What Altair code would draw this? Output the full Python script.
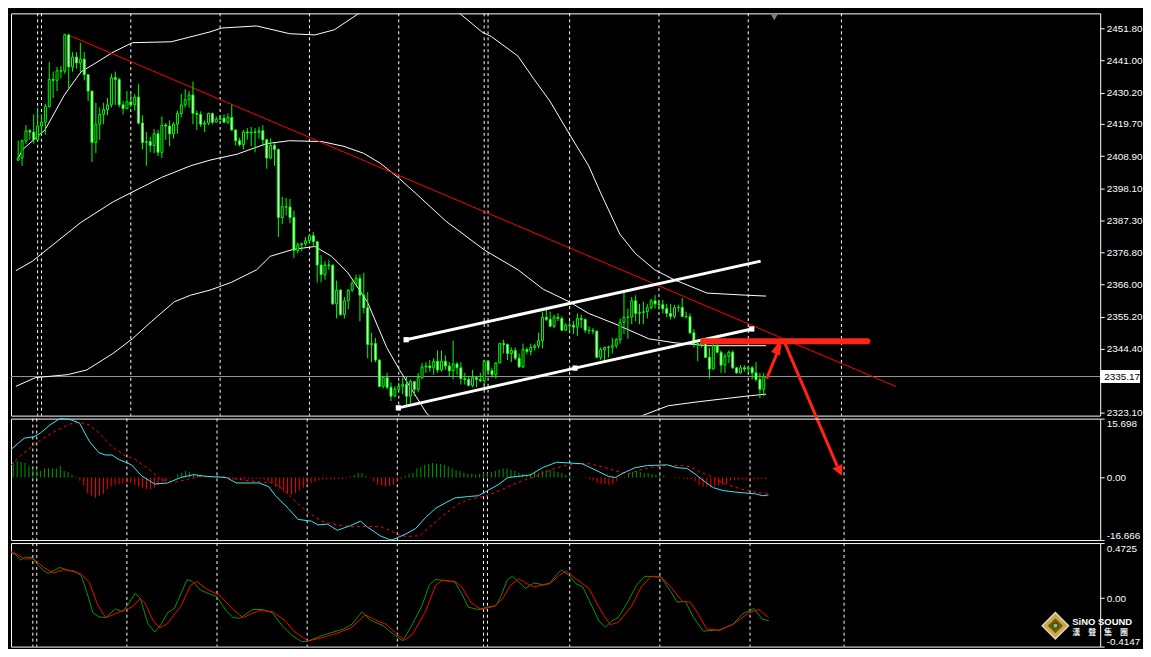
import altair as alt
import pandas as pd
import numpy as np

# ---------------- data ----------------
first_open = 2407.6
closes = [2408.3, 2414.1, 2417.4, 2417.0, 2414.4, 2419.0, 2420.3, 2425.5, 2434.6, 2434.3,
          2437.5, 2437.4, 2449.5, 2438.8, 2442.1, 2440.1, 2441.4, 2436.2, 2430.7, 2413.5,
          2419.6, 2422.9, 2424.5, 2426.1, 2435.2, 2434.6, 2426.1, 2424.8, 2427.1, 2426.1,
          2428.7, 2420.0, 2413.5, 2413.8, 2412.5, 2416.4, 2410.2, 2419.3, 2419.0, 2416.4,
          2419.6, 2423.2, 2426.1, 2427.8, 2429.4, 2423.2, 2422.9, 2419.6, 2420.0, 2423.2,
          2420.3, 2421.3, 2421.6, 2420.3, 2421.9, 2417.7, 2414.1, 2412.8, 2417.0, 2416.7,
          2417.0, 2416.9, 2417.4, 2414.4, 2408.3, 2412.5, 2411.2, 2388.4, 2392.0, 2391.9,
          2388.4, 2377.4, 2379.3, 2379.6, 2380.6, 2382.3, 2380.3, 2372.5, 2369.3, 2372.5,
          2372.4, 2359.5, 2364.1, 2355.9, 2360.5, 2364.1, 2366.3, 2368.0, 2362.4, 2358.2,
          2345.9, 2346.2, 2340.7, 2331.9, 2334.8, 2331.6, 2328.6, 2330.9, 2331.9, 2332.5,
          2328.6, 2333.5, 2330.9, 2334.8, 2338.4, 2338.7, 2338.1, 2340.3, 2337.4, 2340.3,
          2338.7, 2337.1, 2339.4, 2338.1, 2334.5, 2334.2, 2332.2, 2334.8, 2334.2, 2333.8,
          2340.3, 2337.1, 2335.8, 2339.7, 2346.2, 2345.9, 2342.9, 2343.9, 2341.3, 2338.4,
          2344.2, 2343.6, 2344.9, 2345.5, 2347.2, 2355.0, 2354.3, 2352.0, 2355.0, 2354.6,
          2350.7, 2352.4, 2352.3, 2351.7, 2354.6, 2354.3, 2350.7, 2350.6, 2350.4, 2341.6,
          2344.2, 2344.9, 2345.0, 2345.5, 2347.5, 2353.3, 2355.0, 2355.1, 2360.5, 2356.3,
          2356.6, 2356.9, 2358.2, 2360.5, 2359.5, 2359.2, 2357.9, 2356.3, 2355.3, 2358.2,
          2358.3, 2355.3, 2355.2, 2349.8, 2346.2, 2345.9, 2346.5, 2341.6, 2337.7, 2345.5,
          2343.3, 2339.0, 2342.0, 2343.3, 2338.1, 2336.4, 2338.1, 2337.7, 2338.1, 2336.4,
          2334.2, 2330.9, 2335.2]
highs = [2414.1, 2414.4, 2419.3, 2418.0, 2422.9, 2425.2, 2422.9, 2426.5, 2440.4, 2437.2,
         2438.8, 2439.1, 2449.9, 2449.9, 2443.7, 2443.7, 2446.9, 2443.7, 2436.2, 2430.4,
         2426.8, 2425.2, 2426.8, 2428.4, 2436.5, 2437.2, 2435.2, 2427.4, 2430.7, 2430.0,
         2429.7, 2433.0, 2422.6, 2417.0, 2415.4, 2418.0, 2417.7, 2422.2, 2420.0, 2420.9,
         2420.3, 2424.2, 2429.7, 2431.3, 2430.7, 2433.9, 2424.2, 2423.9, 2420.9, 2423.5,
         2423.5, 2422.2, 2422.6, 2422.9, 2423.2, 2426.1, 2417.7, 2415.1, 2417.7, 2418.3,
         2418.7, 2418.3, 2418.7, 2419.3, 2414.8, 2414.8, 2413.5, 2411.2, 2395.3, 2394.9,
         2394.6, 2390.7, 2380.0, 2380.0, 2381.9, 2382.9, 2383.6, 2380.3, 2375.8, 2373.8,
         2374.1, 2372.8, 2367.3, 2364.4, 2361.8, 2364.4, 2367.3, 2369.3, 2369.3, 2369.9,
         2363.4, 2349.8, 2348.1, 2341.0, 2335.1, 2336.4, 2333.2, 2331.9, 2333.2, 2334.8,
         2335.1, 2334.2, 2331.6, 2336.4, 2339.7, 2340.0, 2340.7, 2341.3, 2343.9, 2343.9,
         2342.3, 2340.0, 2347.2, 2340.0, 2340.0, 2336.4, 2335.1, 2337.4, 2335.1, 2336.4,
         2340.7, 2340.7, 2338.1, 2340.0, 2346.5, 2347.5, 2346.2, 2344.9, 2344.9, 2342.9,
         2346.2, 2344.9, 2346.2, 2346.2, 2349.8, 2356.9, 2358.5, 2356.9, 2355.9, 2356.3,
         2355.3, 2353.0, 2353.7, 2353.7, 2356.3, 2355.9, 2354.6, 2352.0, 2351.4, 2350.4,
         2344.9, 2345.2, 2345.5, 2348.1, 2348.1, 2354.6, 2364.1, 2357.9, 2361.8, 2362.4,
         2359.5, 2360.2, 2359.5, 2361.1, 2362.4, 2360.8, 2360.8, 2359.5, 2359.5, 2359.2,
         2359.2, 2361.5, 2356.9, 2356.3, 2351.1, 2346.5, 2347.2, 2347.8, 2344.9, 2346.2,
         2346.2, 2343.9, 2342.9, 2343.9, 2343.9, 2338.4, 2339.0, 2339.0, 2338.7, 2338.7,
         2340.0, 2336.4, 2336.4]
lows = [2407.3, 2405.7, 2413.1, 2414.4, 2413.1, 2416.4, 2416.4, 2416.1, 2425.2, 2428.4,
        2430.7, 2434.9, 2436.5, 2431.7, 2437.2, 2438.2, 2437.2, 2434.3, 2427.4, 2407.0,
        2409.9, 2414.4, 2419.6, 2422.6, 2425.2, 2426.1, 2425.2, 2422.9, 2425.2, 2425.2,
        2424.2, 2419.6, 2411.2, 2405.7, 2410.2, 2409.9, 2408.9, 2408.3, 2414.4, 2412.2,
        2414.8, 2416.4, 2421.9, 2425.2, 2425.2, 2419.6, 2417.7, 2418.7, 2417.0, 2419.3,
        2419.6, 2420.3, 2420.9, 2420.0, 2419.6, 2417.4, 2412.5, 2412.2, 2411.2, 2414.4,
        2412.2, 2410.2, 2414.8, 2412.2, 2404.7, 2407.9, 2405.7, 2381.9, 2386.2, 2389.1,
        2386.5, 2374.8, 2376.4, 2377.1, 2378.7, 2379.7, 2378.7, 2366.7, 2366.7, 2367.6,
        2370.9, 2359.2, 2354.6, 2355.6, 2354.6, 2357.6, 2363.4, 2365.7, 2353.7, 2356.3,
        2341.3, 2340.0, 2340.0, 2331.6, 2331.2, 2330.9, 2327.0, 2328.3, 2330.3, 2329.3,
        2325.4, 2325.4, 2328.6, 2329.9, 2334.2, 2336.4, 2336.8, 2335.8, 2336.4, 2336.8,
        2337.4, 2335.1, 2334.2, 2335.8, 2332.5, 2332.5, 2331.9, 2331.6, 2331.6, 2333.2,
        2331.6, 2336.4, 2334.8, 2334.5, 2339.7, 2342.9, 2340.7, 2340.0, 2340.7, 2338.1,
        2338.1, 2342.6, 2342.3, 2343.9, 2344.6, 2344.6, 2353.7, 2351.7, 2351.4, 2353.7,
        2350.4, 2350.4, 2350.4, 2349.4, 2348.8, 2351.4, 2349.8, 2349.4, 2349.4, 2341.3,
        2340.7, 2340.0, 2341.6, 2342.9, 2344.6, 2346.2, 2349.4, 2347.8, 2352.7, 2353.7,
        2352.7, 2352.7, 2354.6, 2357.6, 2357.9, 2357.6, 2356.3, 2355.0, 2354.3, 2354.6,
        2356.9, 2355.0, 2354.6, 2349.4, 2344.9, 2340.3, 2344.9, 2341.3, 2334.5, 2337.4,
        2342.9, 2336.4, 2336.4, 2339.7, 2337.7, 2336.1, 2336.1, 2336.8, 2336.8, 2334.2,
        2333.5, 2328.0, 2328.6]

upper_band = [(0, 2408.3), (1.2, 2411.2), (6.9, 2417.7), (11.9, 2429.4), (16.2, 2437.2), (18.7, 2439.1),
              (24.4, 2443.7), (29.4, 2446.9), (39.4, 2447.2), (49.4, 2450.5), (52.4, 2451.8), (61.4, 2452.5),
              (69.9, 2449.9), (76.4, 2449.5), (81.4, 2451.2), (87.4, 2456.4), (94.4, 2462.5), (104.4, 2465.8),
              (113.7, 2456.7), (119.4, 2450.5), (121.9, 2448.9), (128.7, 2442.4), (132.7, 2434.9), (136.9, 2427.4),
              (141.9, 2416.4), (146.9, 2405.7), (149.9, 2396.9), (154.9, 2382.9), (158.9, 2376.4), (163.9, 2370.9),
              (168.9, 2367.6), (177.4, 2363.1), (187.4, 2362.4), (192.6, 2362.1)]
middle_band = [(-0.6, 2370.6), (3.7, 2373.8), (7.7, 2378.0), (16.2, 2386.8), (24.4, 2393.6), (28.9, 2396.6),
               (36.9, 2401.8), (44.4, 2405.7), (49.4, 2407.6), (56.4, 2409.6), (63.9, 2413.1), (69.9, 2414.1),
               (78.2, 2413.8), (83.9, 2412.2), (88.9, 2409.9), (93.2, 2406.6), (98.2, 2401.4), (103.7, 2394.9),
               (110.2, 2387.1), (120.2, 2377.4), (128.7, 2370.9), (135.2, 2364.4), (141.9, 2360.2), (146.9, 2356.3),
               (153.9, 2352.7), (162.4, 2347.8), (168.9, 2346.5), (177.4, 2345.5), (192.6, 2345.5)]
lower_band = [(-0.6, 2331.9), (4.4, 2334.8), (12.7, 2335.8), (17.7, 2337.4), (24.4, 2342.9), (29.4, 2347.8),
              (34.4, 2353.7), (40.2, 2360.2), (44.4, 2362.4), (49.4, 2364.1), (54.9, 2366.7), (61.4, 2370.9),
              (64.9, 2375.4), (70.7, 2377.7), (76.4, 2378.7), (80.7, 2375.4), (84.9, 2369.9), (89.9, 2360.2),
              (94.9, 2344.9), (98.2, 2337.4), (100.2, 2333.2), (105.2, 2322.8), (115, 2312.0), (130, 2308.0),
              (145, 2312.0), (155, 2318.0), (160.7, 2322.1), (167.4, 2325.4), (174.9, 2326.7), (187.4, 2328.6),
              (192.6, 2329.3)]

trend_line = [(13.2, 2449.3), (226.1, 2331.8)]
channel_upper = [(99.9, 2347.5), (191.2, 2373.8)]
channel_lower = [(97.9, 2324.7), (143.4, 2338.0), (188.9, 2351.1)]
channel_handles = [(99.9, 2347.5), (97.9, 2324.7), (143.4, 2338.0), (188.9, 2351.1)]
resistance = [(176.4, 2347.0), (218.7, 2347.0)]
arrow_up = [(192.75, 2334.5), (196.2, 2345.5)]
arrow_up_tip = (196.5, 2347.7)
arrow_down = [(197.35, 2346.6), (210.9, 2305.2)]
arrow_down_tip = (212.1, 2302.0)
last_price = 2335.17
separators = [5, 6, 29, 52, 75, 98, 120, 121, 142, 165, 188, 212]
main_ticks = [2451.80, 2441.00, 2430.20, 2419.70, 2408.90, 2398.10, 2387.30, 2376.80,
              2366.00, 2355.20, 2344.40, 2323.10]

hist = [4.07, 4.36, 4.07, 3.88, 3.10, 2.42, 1.94, 1.74, 2.42, 2.42,
        2.42, 2.42, 3.10, 1.74, 1.45, 0.68, 0.19, -0.87, -2.13, -4.17,
        -4.84, -5.33, -4.84, -4.36, -3.10, -2.42, -1.94, -1.74, -1.55, -1.45,
        -1.45, -1.94, -2.42, -2.71, -3.10, -3.10, -2.71, -1.94, -1.26, -0.87,
        -0.19, 0.05, 0.97, 1.26, 1.74, 1.45, 0.97, 0.68, 0.29, 0.19,
        0.19, 0.10, 0.0, -0.19, -0.19, -0.29, -0.48, -0.48, -0.39, -0.39,
        -0.39, -0.39, -0.39, -0.39, -0.58, -0.97, -1.45, -2.42, -2.91, -3.68,
        -4.36, -4.55, -4.07, -3.39, -2.71, -1.94, -1.45, -1.16, -0.78, -0.58,
        -0.48, -0.48, -0.48, -0.39, -0.39, -0.29, 0.29, 0.68, 1.16, 1.16,
        0.39, -0.19, -0.97, -1.94, -2.13, -2.42, -2.23, -1.94, -1.20, -0.40,
        0.48, 0.97, 1.26, 2.42, 2.91, 3.39, 3.68, 3.88, 3.68, 3.59,
        3.39, 2.91, 2.42, 1.94, 1.74, 1.26, 0.97, 0.97, 0.78, 0.97,
        1.16, 1.16, 1.45, 1.74, 2.13, 2.42, 2.42, 2.13, 1.74, 1.16,
        0.97, 0.78, 0.97, 1.16, 1.16, 1.74, 1.94, 1.94, 1.74, 1.45,
        1.16, 0.68, 0.39, 0.19, 0.10, 0.0, -0.19, -0.48, -0.78, -1.45,
        -1.74, -1.74, -1.94, -1.74, -0.97, -0.19, 0.19, 0.97, 1.45, 1.74,
        1.45, 1.16, 1.16, 0.97, 0.78, 0.68, 0.48, 0.0, -0.10, -0.19,
        -0.19, -0.29, -0.39, -0.48, -0.97, -1.94, -2.42, -2.42, -2.71, -2.42,
        -2.13, -1.94, -1.45, -0.78, -0.68, -0.58, -0.58, -0.58, -0.48, -0.48,
        -0.39, -0.39, -0.39]

macd_line = [(-0.6, 7.44), (2.75, 10.47), (5.25, 10.84), (6.9, 11.80), (9.4, 14.04), (11.9, 15.69),
             (14.4, 15.49), (16.9, 14.53), (19.4, 9.68), (21.9, 6.57), (23.6, 5.99), (25.2, 5.99),
             (26.9, 4.83), (30.2, 3.37), (32.7, 0.47), (36.1, -1.74), (39.4, -1.45), (42.7, 0.0),
             (46.1, 0.76), (49.4, 0.29), (54.4, 0.0), (56.9, -1.45), (62.7, -1.45), (65.2, -2.44),
             (66.9, -4.85), (70.2, -8.26), (72.7, -11.16), (76.1, -11.63), (77.7, -12.62), (80.2, -12.41),
             (82.7, -14.07), (86.1, -12.79), (88.6, -11.63), (90.2, -13.08), (93.6, -15.52), (96.1, -16.6),
             (96.9, -16.55), (100.2, -15.03), (102.7, -13.58), (105.2, -10.67), (107.7, -8.26), (110.2, -6.80),
             (112.7, -5.44), (116.2, -5.06), (118.7, -4.85), (121.2, -3.40), (123.7, -1.95), (126.2, 0.0),
             (128.7, 0.29), (131.9, 0.67), (135.2, 2.70), (138.7, 4.07), (141.9, 3.87), (145.2, 3.66),
             (148.7, 1.92), (151.9, 0.29), (153.7, 0.0), (155.2, 0.96), (158.7, 2.62), (161.9, 3.20),
             (166.9, 3.37), (169.4, 2.62), (171.9, 2.41), (173.7, 1.16), (176.9, -1.45), (178.7, -2.73),
             (181.2, -3.49), (184.4, -3.90), (189.4, -4.36), (191.2, -4.85), (192.7, -4.65)]
signal_line = [(-0.6, 3.37), (1.9, 5.81), (5.25, 8.72), (7.7, 10.47), (11.1, 12.59), (14.4, 14.24),
               (16.9, 14.71), (19.4, 14.04), (21.9, 11.80), (25.2, 8.23), (28.6, 5.81), (31.1, 4.83),
               (34.4, 2.41), (37.7, -0.49), (41.1, -1.28), (44.4, -0.49), (47.7, 0.29), (52.7, 0.29),
               (56.1, -0.29), (61.1, -0.99), (66.1, -1.45), (68.6, -2.91), (71.9, -6.31), (75.2, -9.22),
               (78.6, -11.63), (82.7, -12.62), (86.1, -13.08), (90.2, -13.08), (93.6, -13.08), (96.1, -14.07),
               (98.6, -15.32), (100.2, -15.70), (103.7, -15.52), (106.9, -12.62), (110.2, -9.71), (113.7, -6.98),
               (116.9, -5.64), (120.2, -5.06), (123.7, -3.69), (126.9, -2.15), (130.2, -0.78), (133.7, 0.47),
               (136.9, 1.92), (140.2, 3.08), (143.7, 3.66), (146.9, 3.66), (150.2, 2.91), (153.7, 1.74),
               (156.9, 0.96), (160.2, 2.12), (163.7, 2.91), (166.9, 3.20), (170.2, 3.20), (172.7, 2.91),
               (175.2, 1.45), (177.7, 0.47), (181.2, -1.45), (183.7, -2.44), (186.9, -3.40), (190.2, -4.07),
               (192.7, -4.19)]

osc_green = [(-0.6, 0.392), (0.7, 0.373), (1.9, 0.326), (3.2, 0.354), (4.9, 0.346), (6.1, 0.290),
             (7.8, 0.235), (9.0, 0.213), (10.7, 0.243), (11.9, 0.263), (14.0, 0.240), (16.1, 0.221),
             (17.4, 0.193), (19.0, 0.027), (20.3, -0.124), (21.9, -0.160), (23.6, -0.166), (26.1, -0.091),
             (27.8, -0.116), (29.0, -0.069), (31.1, 0.041), (32.4, 0.0), (34.4, -0.221), (36.1, -0.290),
             (37.8, -0.221), (39.4, -0.124), (41.1, -0.089), (42.8, 0.041), (44.4, 0.160), (45.7, 0.143),
             (47.8, 0.069), (50.3, 0.033), (51.9, 0.014), (54.4, -0.110), (56.1, -0.166), (57.8, -0.172),
             (61.1, -0.097), (63.6, -0.097), (66.1, -0.124), (68.6, -0.235), (71.1, -0.318), (73.6, -0.373),
             (75.2, -0.367), (79.4, -0.313), (84.4, -0.263), (86.5, -0.221), (89.0, -0.116), (91.1, -0.188),
             (94.4, -0.235), (97.4, -0.318), (99.4, -0.365), (101.9, -0.221), (104.4, -0.056), (106.1, 0.110),
             (107.7, 0.160), (110.2, 0.152), (112.7, 0.138), (114.4, 0.041), (116.1, -0.077), (118.6, -0.097),
             (121.1, -0.075), (123.2, -0.064), (124.4, 0.014), (126.1, 0.160), (127.4, 0.188), (129.0, 0.138),
             (130.7, 0.083), (132.8, 0.130), (135.2, 0.116), (136.9, 0.130), (138.6, 0.199), (139.9, 0.243),
             (141.9, 0.193), (143.6, 0.124), (145.3, 0.097), (146.9, -0.014), (149.4, -0.193), (151.1, -0.249),
             (152.8, -0.193), (154.4, -0.166), (156.9, -0.027), (159.0, 0.110), (161.1, 0.188), (165.3, 0.180),
             (167.8, 0.056), (169.4, -0.033), (171.5, -0.027), (173.6, -0.166), (176.1, -0.282), (180.3, -0.271),
             (183.6, -0.226), (186.1, -0.133), (189.0, -0.089), (191.1, -0.180), (192.8, -0.193)]
osc_red = [(-0.6, 0.400), (1.1, 0.373), (2.8, 0.337), (5.25, 0.337), (7.75, 0.263), (10.25, 0.216),
           (12.75, 0.243), (15.25, 0.235), (17.35, 0.207), (19.4, 0.138), (21.5, -0.056), (23.6, -0.166),
           (26.1, -0.133), (28.6, -0.097), (30.25, -0.077), (32.35, -0.006), (33.6, -0.041), (35.7, -0.193),
           (37.35, -0.255), (39.4, -0.216), (42.75, -0.069), (45.25, 0.110), (46.9, 0.143), (49.4, 0.077),
           (52.75, 0.022), (56.1, -0.097), (58.6, -0.166), (62.75, -0.105), (66.1, -0.116), (69.4, -0.193),
           (71.9, -0.290), (75.25, -0.367), (78.6, -0.340), (82.75, -0.299), (86.1, -0.255), (89.85, -0.143),
           (91.9, -0.180), (95.25, -0.226), (97.75, -0.304), (99.85, -0.359), (101.9, -0.309), (105.25, -0.110),
           (107.75, 0.110), (109.4, 0.152), (112.75, 0.143), (114.4, 0.097), (116.9, -0.041), (119.4, -0.097),
           (122.75, -0.069), (124.85, -0.006), (126.9, 0.110), (129.0, 0.166), (131.1, 0.124), (132.75, 0.097),
           (136.9, 0.124), (139.4, 0.199), (141.1, 0.230), (143.6, 0.166), (146.9, 0.083), (150.25, -0.124),
           (152.35, -0.226), (154.4, -0.207), (157.75, -0.069), (160.25, 0.097), (162.75, 0.188), (165.25, 0.185),
           (167.75, 0.097), (170.7, -0.027), (172.75, -0.033), (174.85, -0.138), (176.9, -0.263), (180.25, -0.276),
           (184.0, -0.216), (187.75, -0.124), (190.25, -0.097), (192.75, -0.166)]

# ---------------- styling ----------------
W, H1, H2, H3 = 1094, 404, 122, 104
XDOM = [-0.575, 277.35]
CANDLE = "#00ff00"
DKGREEN = "#009a00"
RED = "#ff0000"
ARROW = "#ff2418"
CYAN = "#3ce6f6"
FONT = "Liberation Sans"

xsc = alt.Scale(domain=XDOM, nice=False, zero=False)


def X(f="i"):
    return alt.X(f"{f}:Q", scale=xsc, axis=None)


def pairs(lst, name=None):
    df = pd.DataFrame(lst, columns=["i", "v"])
    if name is not None:
        df["s"] = name
    return df


# ---------------- main price panel ----------------
y1 = alt.Scale(domain=[2322.1, 2456.7], nice=False, zero=False)
ax1 = alt.Axis(orient="right", values=main_ticks, title=None, labelExpr="format(datum.value, '.2f')",
               labelOverlap=False)


def Y1(f):
    return alt.Y(f"{f}:Q", scale=y1, axis=ax1)


opens = [first_open] + closes[:-1]
cd = pd.DataFrame({"i": range(len(closes)), "open": opens, "close": closes, "high": highs, "low": lows})
cd["hi"] = cd[["high", "open", "close"]].max(axis=1)
cd["lo"] = cd[["low", "open", "close"]].min(axis=1)
cd["fill"] = np.where(cd["close"] < cd["open"], "#ffffff", "#000000")

sep_df = pd.DataFrame({"i": separators})


def sep_layer():
    return alt.Chart(sep_df).mark_rule(color="#ffffff", strokeDash=[3, 3], strokeWidth=1).encode(x=X())


price_line = alt.Chart(pd.DataFrame({"v": [last_price]})).mark_rule(color="#9a9a9a", strokeWidth=1).encode(y=Y1("v"))

bands = pd.concat([pairs(upper_band, "u"), pairs(middle_band, "m"), pairs(lower_band, "l")])
band_layer = alt.Chart(bands).mark_line(color="#ffffff", strokeWidth=1, clip=True).encode(
    x=X(), y=Y1("v"), detail="s:N")

trend = alt.Chart(pairs(trend_line)).mark_line(color=RED, strokeWidth=1).encode(x=X(), y=Y1("v"))

wicks = alt.Chart(cd).mark_rule(color=CANDLE, strokeWidth=1).encode(x=X(), y=Y1("lo"), y2="hi:Q")
bodies = alt.Chart(cd).mark_bar(size=2, stroke=CANDLE, strokeWidth=1).encode(
    x=X(), y=Y1("open"), y2="close:Q", fill=alt.Fill("fill:N", scale=None))

chan = pd.concat([pairs(channel_upper, "a"), pairs(channel_lower, "b")])
chan_layer = alt.Chart(chan).mark_line(color="#ffffff", strokeWidth=3).encode(x=X(), y=Y1("v"), detail="s:N")
handles = alt.Chart(pairs(channel_handles)).mark_square(size=28, color="#ffffff", opacity=1).encode(
    x=X(), y=Y1("v"))

res_layer = alt.Chart(pairs(resistance)).mark_line(color=ARROW, strokeWidth=6, strokeCap="round").encode(
    x=X(), y=Y1("v"))

shafts = pd.concat([pairs(arrow_up, "u"), pairs(arrow_down, "d")])
shaft_layer = alt.Chart(shafts).mark_line(color=ARROW, strokeWidth=3, clip=False).encode(
    x=X(), y=Y1("v"), detail="s:N")
head1 = alt.Chart(pairs([arrow_up_tip])).mark_point(
    shape="M0,0L0.62,2L-0.62,2Z", filled=True, opacity=1, color=ARROW, size=250, angle=21, clip=False
).encode(x=X(), y=Y1("v"))
head2 = alt.Chart(pairs([arrow_down_tip])).mark_point(
    shape="M0,0L1.05,2L-1.05,2Z", filled=True, opacity=1, color=ARROW, size=110, angle=155, clip=False
).encode(x=X(), y=Y1("v"))

shift_mark = alt.Chart(pairs([(194.7, 2455.4)])).mark_point(
    shape="triangle-down", filled=True, opacity=1, color="#808080", size=45).encode(x=X(), y=Y1("v"))

lp_df = pd.DataFrame({"v": [last_price], "t": [f"{last_price:.2f}"]})
lp_box = alt.Chart(lp_df).mark_tick(orient="horizontal", thickness=13, size=40, color="#ffffff", opacity=1,
                                    clip=False).encode(x=alt.value(W + 20), y=Y1("v"))
lp_text = alt.Chart(lp_df).mark_text(align="left", baseline="middle", font=FONT, fontSize=10, color="#000000",
                                     clip=False).encode(x=alt.value(W + 4), y=Y1("v"), text="t:N")

main = alt.layer(
    sep_layer(), price_line, band_layer, trend, wicks, bodies, chan_layer, handles,
    res_layer, shaft_layer, head1, head2, shift_mark, lp_box, lp_text
).properties(width=W, height=H1)

# ---------------- MACD panel ----------------
y2s = alt.Scale(domain=[-16.666, 15.698], nice=False, zero=False)
ax2 = alt.Axis(orient="right", values=[15.698, 0, -16.666], title=None, labelFlush=True, labelOverlap=False,
               labelExpr="datum.value == 0 ? '0.00' : (datum.value < 0 ? '-' + format(-datum.value, '.3f') : format(datum.value, '.3f'))")


def Y2(f):
    return alt.Y(f"{f}:Q", scale=y2s, axis=ax2)


hd = pd.DataFrame({"i": range(len(hist)), "v": hist, "z": 0.0})
hd["c"] = np.where(hd["v"] >= 0, DKGREEN, RED)
hist_layer = alt.Chart(hd).mark_rule(strokeWidth=1).encode(
    x=X(), y=Y2("z"), y2="v:Q", color=alt.Color("c:N", scale=None))
sig_layer = alt.Chart(pairs(signal_line)).mark_line(color=RED, strokeWidth=1, strokeDash=[3, 3]).encode(
    x=X(), y=Y2("v"))
macd_layer = alt.Chart(pairs(macd_line)).mark_line(color=CYAN, strokeWidth=1).encode(x=X(), y=Y2("v"))

macd = alt.layer(sep_layer(), hist_layer, sig_layer, macd_layer).properties(width=W, height=H2)

# ---------------- oscillator panel ----------------
y3s = alt.Scale(domain=[-0.4147, 0.4725], nice=False, zero=False)
ax3 = alt.Axis(orient="right", values=[0.4725, 0, -0.4147], title=None, labelFlush=True, labelOverlap=False,
               labelExpr="datum.value == 0 ? '0.00' : (datum.value < 0 ? '-' + format(-datum.value, '.4f') : format(datum.value, '.4f'))")


def Y3(f):
    return alt.Y(f"{f}:Q", scale=y3s, axis=ax3)


og = alt.Chart(pairs(osc_green)).mark_line(color=DKGREEN, strokeWidth=1).encode(x=X(), y=Y3("v"))
orr = alt.Chart(pairs(osc_red)).mark_line(color=RED, strokeWidth=1).encode(x=X(), y=Y3("v"))

one = pd.DataFrame({"a": [0]})
logo_outer = alt.Chart(one).mark_point(shape="diamond", filled=True, opacity=1, size=700, fill="#cfa83a",
                                       stroke="#d8d8d8", strokeWidth=1.5, clip=False).encode(
    x=alt.value(1049), y=alt.value(83))
logo_inner = alt.Chart(one).mark_point(shape="diamond", filled=True, opacity=1, size=230, fill="#6e5a1c",
                                       clip=False).encode(x=alt.value(1049), y=alt.value(83))
logo_dot = alt.Chart(one).mark_point(shape="circle", filled=True, opacity=1, size=28, fill="#8cc83c",
                                     stroke="#2a2a10", strokeWidth=1, clip=False).encode(
    x=alt.value(1049), y=alt.value(83))
logo_en = alt.Chart(one).mark_text(text="SiNO SOUND", align="left", baseline="middle", font=FONT,
                                   fontSize=9.5, fontWeight="bold", color="#ffffff", clip=False).encode(
    x=alt.value(1066), y=alt.value(79))
logo_cn = alt.Chart(one).mark_text(text="漢　聲　集　團", align="left", baseline="middle", font="Noto Sans CJK TC",
                                   fontSize=8, fontWeight="bold", color="#e8e8e8", clip=False).encode(
    x=alt.value(1066), y=alt.value(90))

osc = alt.layer(sep_layer(), og, orr, logo_outer, logo_inner, logo_dot, logo_en, logo_cn).properties(
    width=W, height=H3)

chart = alt.vconcat(main, macd, osc, spacing=3).properties(
    padding={"left": 0, "top": 3, "right": 0, "bottom": 0}, bounds="flush"
).resolve_scale(y="independent").configure(background="#000000").configure_view(
    stroke="#ffffff", strokeWidth=1
).configure_axis(
    labelFont=FONT, labelFontSize=10, labelColor="#ffffff", tickColor="#ffffff", tickSize=4,
    labelPadding=2, domain=False, grid=False
)

chart.save("out.html", embed_options={"renderer": "svg", "actions": False})
